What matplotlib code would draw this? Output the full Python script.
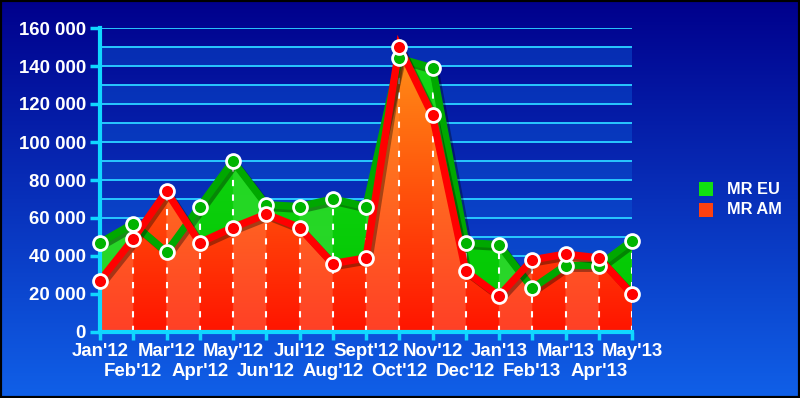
import numpy as np
import matplotlib
matplotlib.use("Agg")
import matplotlib.pyplot as plt
from matplotlib.patches import Rectangle
from matplotlib.ticker import FuncFormatter, MultipleLocator
import matplotlib.patheffects as pe

plt.rcParams['font.family'] = ['Liberation Sans', 'DejaVu Sans']

months = ["Jan'12", "Feb'12", "Mar'12", "Apr'12", "May'12", "Jun'12", "Jul'12",
          "Aug'12", "Sept'12", "Oct'12", "Nov'12", "Dec'12", "Jan'13", "Feb'13",
          "Mar'13", "Apr'13", "May'13"]
mr_eu = [47000, 57000, 42000, 66000, 90000, 67000, 66000, 70000, 66000,
         144000, 139000, 47000, 46000, 23000, 35000, 35000, 48000]
mr_am = [27000, 49000, 74000, 47000, 55000, 62000, 55000, 36000, 39000,
         150000, 114000, 32000, 19000, 38000, 41000, 39000, 20000]

W, H = 800, 398
fig = plt.figure(figsize=(W / 100, H / 100), dpi=100)

# background gradient
bg = fig.add_axes([0, 0, 1, 1])
bg.set_axis_off()
t = np.linspace(0, 1, 256)[:, None]
top = np.array([0, 0, 140]) / 255
bot = np.array([16, 96, 232]) / 255
grad = top[None, None, :] * (1 - t[..., None]) + bot[None, None, :] * t[..., None]
grad = np.repeat(grad, 2, axis=1)
bg.imshow(grad, aspect='auto', extent=[0, 1, 0, 1])
bg.set_xlim(0, 1)
bg.set_ylim(0, 1)
bg.add_patch(Rectangle((0, 0), 1, 1, fill=False, ec='black', lw=3))

ax = fig.add_axes([100 / W, (H - 332) / H, 532 / W, 304 / H])
ax.set_facecolor('none')
x = np.arange(len(months))
ax.set_xlim(0, len(months) - 1)
ax.set_ylim(0, 160000)

# bands and grid
for k in range(16):
    if k % 2 == 0:
        ax.axhspan(k * 10000, (k + 1) * 10000, color='#0a50d0', alpha=0.5, lw=0, zorder=0)
for k in range(1, 17):
    ax.axhline(k * 10000, color='#28c8ff', lw=1.4, zorder=1)

def gradient_fill(yvals, dark, light, top_col, z):
    poly = ax.fill_between(x, yvals, 0, color='none', lw=0, zorder=z)
    ny, nx = 200, 800
    yy = np.linspace(1, 0, ny)[:, None, None]
    base = np.array(dark)[None, None, :] * (1 - yy) + np.array(top_col)[None, None, :] * yy
    img = np.repeat(base, nx, axis=1)
    xs = np.linspace(0, len(months) - 1, nx)
    lightcols = (np.floor(xs) % 2 == 0)
    lt = np.array(light)[None, None, :] * (1 - yy) + np.array(top_col)[None, None, :] * yy
    img[:, lightcols, :] = 0.5 * img[:, lightcols, :] + 0.5 * np.repeat(lt, lightcols.sum(), axis=1)
    im = ax.imshow(np.clip(img, 0, 1), aspect='auto', extent=[0, len(months) - 1, 0, 160000],
                   zorder=z, interpolation='bilinear')
    im.set_clip_path(poly.get_paths()[0], transform=ax.transData)
    return poly

gradient_fill(mr_eu, [0.0, 0.78, 0.0], [0.35, 0.9, 0.35], [0.1, 0.85, 0.1], 2)
gradient_fill(mr_am, [1.0, 0.08, 0.0], [1.0, 0.42, 0.3], [1.0, 0.6, 0.1], 3)

# dashed verticals
for xi, a, b in zip(x, mr_eu, mr_am):
    ax.plot([xi, xi], [0, max(a, b) - 4000], color='white', lw=1.5, ls=(0, (3, 4)), zorder=4)

shadow = [pe.SimpleLineShadow(offset=(2, -2), shadow_color='black', alpha=0.35), pe.Normal()]
ax.plot(x, mr_eu, color='#00a800', lw=5.3, zorder=5, solid_joinstyle='miter',
        path_effects=shadow, clip_on=False)
ax.plot(x, mr_am, color='#ff0000', lw=5.3, zorder=6, solid_joinstyle='miter',
        path_effects=shadow, clip_on=False)
ax.plot(x, mr_eu, ls='none', marker='o', ms=10, mfc='#00b400', mec='white', mew=2,
        zorder=7, clip_on=False)
ax.plot(x, mr_am, ls='none', marker='o', ms=10, mfc='#ff0000', mec='white', mew=2,
        zorder=8, clip_on=False)

# axes
for s in ['top', 'right']:
    ax.spines[s].set_visible(False)
for s in ['left', 'bottom']:
    ax.spines[s].set_color('#10d8ff')
    ax.spines[s].set_linewidth(3)
    ax.spines[s].set_zorder(6.5)
ax.yaxis.set_major_locator(MultipleLocator(20000))
ax.yaxis.set_major_formatter(FuncFormatter(lambda v, p: f"{int(v):,}".replace(',', ' ')))
ax.tick_params(axis='y', colors='#10d8ff', length=7, width=2.5, labelcolor='white',
               labelsize=13.4, pad=3)
for lab in ax.get_yticklabels():
    lab.set_fontweight('bold')
ax.set_xticks(x)
ax.set_xticklabels([])
ax.tick_params(axis='x', colors='#10d8ff', length=6, width=2.5)
for i, m in enumerate(months):
    off = -11 if i % 2 == 0 else -31
    ax.annotate(m, (i, 0), xycoords=('data', 'axes fraction'), xytext=(0, off),
                textcoords='offset pixels', ha='center', va='top', color='white',
                fontsize=13.4, fontweight='bold', annotation_clip=False)

# legend
for yc, col, name in [(189, '#10e010', 'MR EU'), (210, '#ff4010', 'MR AM')]:
    fig.patches.append(Rectangle((699 / W, (H - yc - 7) / H), 14 / W, 14 / H,
                                 transform=fig.transFigure, fc=col, ec='none'))
    fig.text(727 / W, (H - yc) / H, name, color='white', fontsize=11.8,
             fontweight='bold', va='center', ha='left')

fig.savefig('out.png', dpi=100)
